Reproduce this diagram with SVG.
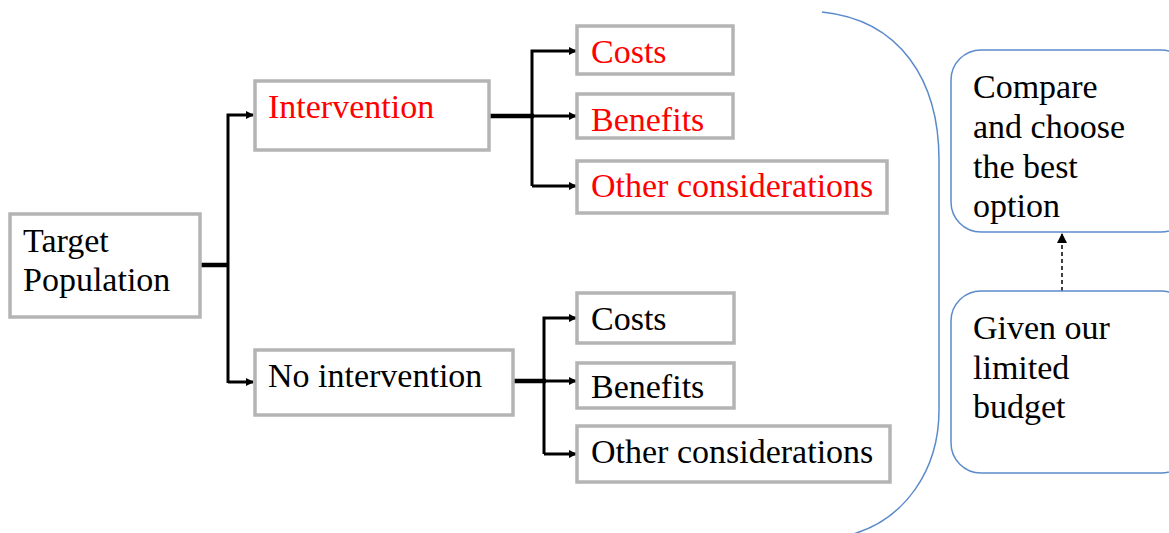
<svg xmlns="http://www.w3.org/2000/svg" width="1169" height="533" viewBox="0 0 1169 533">
<style>
.box{fill:#fff;stroke:#b4b4b4;stroke-width:3.5}
.rbox{fill:#fff;stroke:#5b8bcb;stroke-width:1.5}
.c{fill:none;stroke:#000;stroke-width:3}
.thick{fill:none;stroke:#000;stroke-width:4.5}
</style>
<defs>
<marker id="ah" markerWidth="8" markerHeight="8" refX="7" refY="4" orient="auto" markerUnits="userSpaceOnUse" viewBox="0 0 8 8">
<path d="M0,0 L8,4 L0,8 z" fill="#000"/>
</marker>
<marker id="ah2" markerWidth="10" markerHeight="10" refX="9" refY="5" orient="auto" markerUnits="userSpaceOnUse" viewBox="0 0 10 10">
<path d="M0,0 L10,5 L0,10 z" fill="#000"/>
</marker>
</defs>
<g id="connectors">
<path class="thick" d="M200,265 H229"/>
<path class="c" d="M228,383 V115 H253" marker-end="url(#ah)"/>
<path class="c" d="M228,382 H253" marker-end="url(#ah)"/>
<path class="thick" d="M489,116 H534"/>
<path class="c" d="M532,186 V51 H576" marker-end="url(#ah)"/>
<path class="c" d="M532,116 H576" marker-end="url(#ah)"/>
<path class="c" d="M532,186 H576" marker-end="url(#ah)"/>
<path class="thick" d="M513,381 H546"/>
<path class="c" d="M544,454 V318 H576" marker-end="url(#ah)"/>
<path class="c" d="M544,381 H576" marker-end="url(#ah)"/>
<path class="c" d="M544,454 H576" marker-end="url(#ah)"/>
<path d="M1062,291 V234" fill="none" stroke="#000" stroke-width="1.5" stroke-dasharray="4,3" marker-end="url(#ah2)"/>
<path d="M822,12 C900,20 939,80 939,160 L939,410 C939,470 905,520 850,535" fill="none" stroke="#5b8bcb" stroke-width="1.5"/>
</g>
<g id="target">
<rect class="box" x="10" y="214" width="190" height="103"/>
<text x="23" y="252" style="font-family:'Liberation Serif','Times New Roman',serif;font-size:34px;fill:#000">Target</text>
<text x="23" y="291" style="font-family:'Liberation Serif','Times New Roman',serif;font-size:34px;fill:#000">Population</text>
</g>
<g id="intervention">
<rect class="box" x="255" y="81" width="234" height="69"/>
<text x="268" y="118" style="font-family:'Liberation Serif','Times New Roman',serif;font-size:34px;fill:#ff0000">Intervention</text>
</g>
<g id="no-intervention">
<rect class="box" x="255" y="350" width="258" height="65"/>
<text x="268" y="387" style="font-family:'Liberation Serif','Times New Roman',serif;font-size:34px;fill:#000">No intervention</text>
</g>
<g id="costs1">
<rect class="box" x="577" y="26" width="156" height="48"/>
<text x="591" y="63" style="font-family:'Liberation Serif','Times New Roman',serif;font-size:34px;fill:#ff0000">Costs</text>
</g>
<g id="benefits1">
<rect class="box" x="577" y="94" width="156" height="44"/>
<text x="591" y="131" style="font-family:'Liberation Serif','Times New Roman',serif;font-size:34px;fill:#ff0000">Benefits</text>
</g>
<g id="other1">
<rect class="box" x="577" y="161" width="310" height="52"/>
<text x="591" y="197" style="font-family:'Liberation Serif','Times New Roman',serif;font-size:34px;fill:#ff0000">Other considerations</text>
</g>
<g id="costs2">
<rect class="box" x="577" y="293" width="157" height="50"/>
<text x="591" y="330" style="font-family:'Liberation Serif','Times New Roman',serif;font-size:34px;fill:#000">Costs</text>
</g>
<g id="benefits2">
<rect class="box" x="577" y="363" width="157" height="45"/>
<text x="591" y="398" style="font-family:'Liberation Serif','Times New Roman',serif;font-size:34px;fill:#000">Benefits</text>
</g>
<g id="other2">
<rect class="box" x="577" y="426" width="313" height="56"/>
<text x="591" y="463" style="font-family:'Liberation Serif','Times New Roman',serif;font-size:34px;fill:#000">Other considerations</text>
</g>
<g id="compare">
<rect class="rbox" x="951" y="50" width="240" height="182" rx="30" ry="30"/>
<text x="973" y="98" style="font-family:'Liberation Serif','Times New Roman',serif;font-size:34px;fill:#000">Compare</text>
<text x="973" y="138" style="font-family:'Liberation Serif','Times New Roman',serif;font-size:34px;fill:#000">and choose</text>
<text x="973" y="178" style="font-family:'Liberation Serif','Times New Roman',serif;font-size:34px;fill:#000">the best</text>
<text x="973" y="217" style="font-family:'Liberation Serif','Times New Roman',serif;font-size:34px;fill:#000">option</text>
</g>
<g id="budget">
<rect class="rbox" x="951" y="291" width="240" height="182" rx="30" ry="30"/>
<text x="973" y="339" style="font-family:'Liberation Serif','Times New Roman',serif;font-size:34px;fill:#000">Given our</text>
<text x="973" y="379" style="font-family:'Liberation Serif','Times New Roman',serif;font-size:34px;fill:#000">limited</text>
<text x="973" y="418" style="font-family:'Liberation Serif','Times New Roman',serif;font-size:34px;fill:#000">budget</text>
</g>
</svg>
